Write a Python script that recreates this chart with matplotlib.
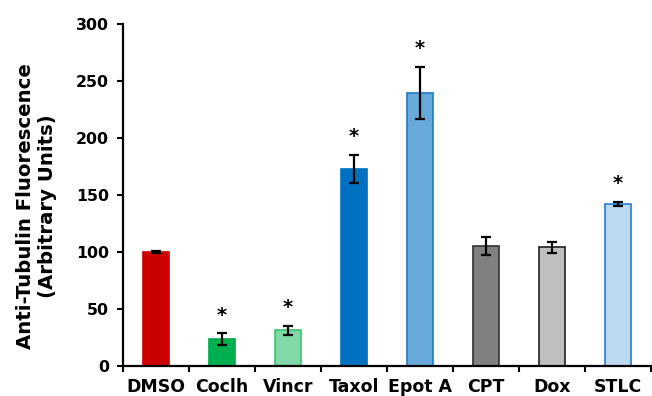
import numpy as np
import matplotlib.pyplot as plt

plt.rcParams['font.family'] = ['DejaVu Sans']
plt.rcParams['font.weight'] = 'bold'

labels = ["DMSO", "Coclh", "Vincr", "Taxol", "Epot A", "CPT", "Dox", "STLC"]
values = [100, 23.5, 31.5, 173, 239.5, 105, 104, 142]
errors = [0.6, 5, 4, 12.5, 23, 8, 5, 2]
signif = [False, True, True, True, True, False, False, True]
face = ["#CC0000", "#00B050", "#80D9A6", "#0070C0", "#66A9DA", "#808080", "#BFBFBF", "#BDD9EF"]
edge = ["#CC0000", "#00A84A", "#3CC270", "#0070C0", "#1F78C8", "#303030", "#202020", "#1F7FD0"]

fig = plt.figure(figsize=(6.52, 3.96), dpi=100)
ax = fig.add_axes([0.1887, 0.0758, 0.8098, 0.8636])

x = np.arange(len(labels)) + 0.5
ax.bar(x, values, width=0.4, color=face, edgecolor=edge, linewidth=1.2, zorder=2)
ax.errorbar(x, values, yerr=errors, fmt='none', ecolor='black', elinewidth=1.6,
            capsize=3.4, capthick=1.6, zorder=3)

for xi, v, e, s in zip(x, values, errors, signif):
    if s:
        ax.annotate('*', (xi, v + e), xytext=(0, 6), textcoords='offset points',
                    ha='center', va='bottom', fontsize=14, fontweight='bold')

ax.set_xlim(0, 8)
ax.set_ylim(0, 300)
ax.set_yticks([0, 50, 100, 150, 200, 250, 300])
ax.set_xticks(x)
ax.set_xticklabels(labels)
ax.set_xticks(np.arange(0, 9), minor=True)
ax.tick_params(axis='x', which='major', length=0, pad=9, labelsize=12.5)
ax.tick_params(axis='x', which='minor', length=4.5, width=1.5, direction='out')
ax.tick_params(axis='y', length=4.5, width=1.5, direction='out', labelsize=11.3, pad=5.5)

for sp in ['top', 'right']:
    ax.spines[sp].set_visible(False)
for sp in ['left', 'bottom']:
    ax.spines[sp].set_linewidth(1.6)

ax.set_ylabel("Anti-Tubulin Fluorescence\n(Arbitrary Units)", fontsize=14.2,
              fontweight='bold')
ax.yaxis.set_label_coords(-0.125, 0.468)

fig.savefig("out.png", dpi=100)
